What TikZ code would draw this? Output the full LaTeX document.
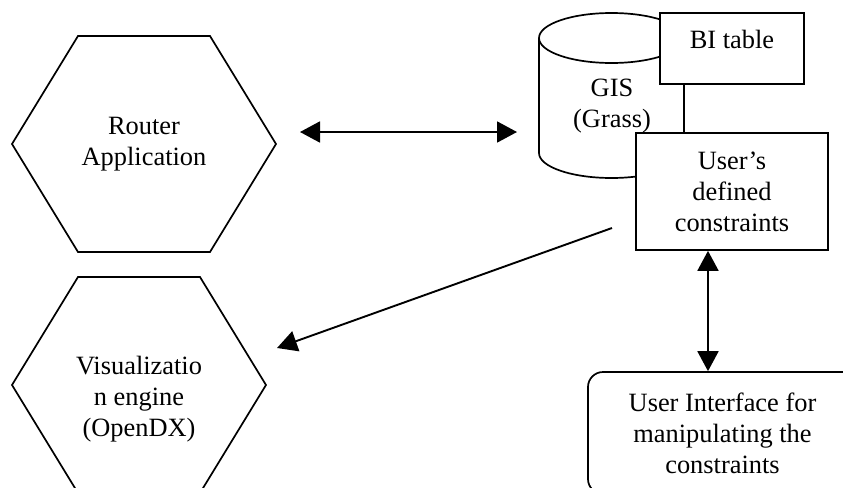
\documentclass[tikz,border=0pt]{standalone}
\usepackage{fontspec}
\setmainfont{Liberation Serif}
\usetikzlibrary{arrows.meta}
\begin{document}
\begin{tikzpicture}[x=0.5pt,y=-0.5pt,
  every node/.style={font=\fontsize{13.2pt}{15.5pt}\selectfont, align=center, inner sep=0pt},
  outline/.style={line width=0.85pt, line join=miter},
  box/.style={outline, draw, fill=white, rectangle},
  head/.tip={Triangle[length=10pt,width=10.5pt]},
  twoway/.style={line width=0.95pt, head-head},
  oneway/.style={line width=0.95pt, -head}]

\useasboundingbox (0,0) rectangle (843,488);
\clip (0,0) rectangle (843,488);

% Router application (hexagon)
\draw[outline] (78,36) -- (210,36) -- (276,144) -- (210,252) -- (78,252) -- (12,144) -- cycle;
\node (router) at (144,144) {Router\\Application};

% Visualization engine (hexagon, runs past the lower edge)
\draw[outline] (78,277) -- (200,277) -- (266,385) -- (200,493) -- (78,493) -- (12,385) -- cycle;
\node (viz) at (139,399) {Visualizatio\\n engine\\(OpenDX)};

% GIS database cylinder
\draw[outline, fill=white] (539,38) -- (539,153)
  arc[start angle=180, end angle=360, x radius=36.25pt, y radius=12.5pt] -- (684,38);
\draw[outline, fill=white] (611.5,38) ellipse[x radius=36.25pt, y radius=12.5pt];
\node (gis) at (612,106) {GIS\\(Grass)};

% Tables sitting on the cylinder
\node[box, anchor=north, minimum width=72pt, text height=18pt, text depth=17.5pt] (bi) at (732,12) {BI table};
\node[box, minimum width=96pt, minimum height=58.5pt] (udc) at (732,191.5) {User’s\\defined\\constraints};

% User interface (rounded box, runs past the right edge)
\node[box, rounded corners=7.5pt, minimum width=134.5pt, minimum height=61pt] (ui) at (722.5,433)
  {User Interface for\\manipulating the\\constraints};

% Connectors
\coordinate (router-e) at (300,132);
\coordinate (gis-w) at (517,132);
\draw[twoway] (router-e) -- (gis-w);

\coordinate (udc-w) at (612,228);
\coordinate (viz-ne) at (277,348);
\draw[oneway] (udc-w) -- (viz-ne);

\draw[twoway] ([xshift=-12pt]udc.south) -- ([xshift=-7.25pt]ui.north);
\end{tikzpicture}
\end{document}
